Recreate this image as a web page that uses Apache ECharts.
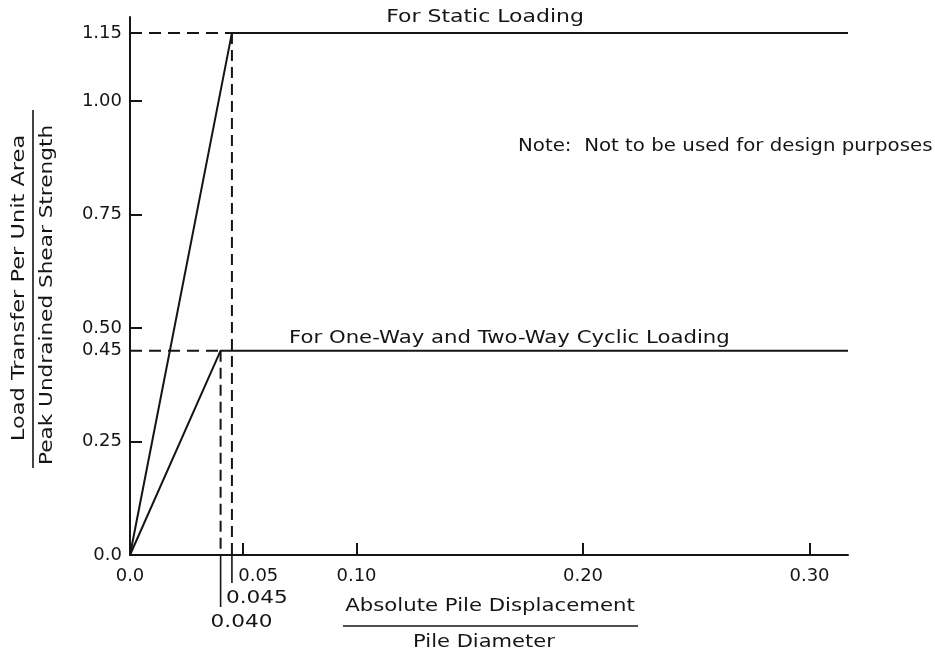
<!DOCTYPE html>
<html>
<head>
<meta charset="utf-8">
<script src="https://cdn.jsdelivr.net/npm/echarts@6/dist/echarts.min.js"></script>
<style>
  html, body { margin: 0; padding: 0; background: #fff; }
  #chart { width: 935px; height: 649px; }
</style>
</head>
<body>
<div id="chart"></div>
<script>
// Axis ticks and tick labels
const xTickValues = [0.05, 0.10, 0.20, 0.30];
const xLabelValues = [0, 0.05, 0.10, 0.20, 0.30];
const xLabelTexts = ['0.0', '0.05', '0.10', '0.20', '0.30'];
const yTickValues = [0.25, 0.50, 0.75, 1.00];
const yLabelValues = [0, 0.25, 0.45, 0.50, 0.75, 1.00, 1.15];
const yLabelTexts = ['0.0', '0.25', '0.45', '0.50', '0.75', '1.00', '1.15'];

// Load-transfer curves: [displacement / diameter, load transfer / peak strength]
const staticLoading = [[0, 0], [0.045, 1.15], [0.317, 1.15]];
const cyclicLoading = [[0, 0], [0.040, 0.45], [0.317, 0.45]];

// Peak points marked with dashed projection lines
const peakPoints = [[0.045, 1.15], [0.040, 0.45]];
const peakLabels = ['0.045', '0.040'];

const INK = '#151515';
const FONT = 'DejaVu Sans';
const WIDE = 1.2;   // horizontal stretch for the wide lettering

// Drop-line extension below the axis and label shift for each peak point
const dropBelow = [28, 52];
const labelShift = [6, 10];

function lookup(values, texts, v) {
  for (let i = 0; i < values.length; i++) {
    if (Math.abs(values[i] - v) < 1e-9) return texts[i];
  }
  return '';
}

function label(text, x, y, opts) {
  opts = opts || {};
  return {
    type: 'text', x: x, y: y,
    rotation: opts.rotation || 0,
    scaleX: opts.scaleX || WIDE,
    style: {
      text: text, fill: INK,
      font: (opts.size || 18) + 'px "' + FONT + '"',
      textAlign: opts.align || 'center', textVerticalAlign: 'middle'
    }
  };
}

const chart = echarts.init(document.getElementById('chart'), null, { renderer: 'canvas' });

chart.setOption({
  animation: false,
  backgroundColor: '#fff',
  grid: { left: 130, right: 87, top: 17, bottom: 94 },
  xAxis: {
    type: 'value',
    min: 0,
    max: 0.317,
    splitLine: { show: false },
    axisLine: { show: true, onZero: false, lineStyle: { color: INK, width: 2 } },
    axisTick: {
      show: true, inside: true, length: 12,
      customValues: xTickValues,
      lineStyle: { color: INK, width: 2 }
    },
    axisLabel: {
      customValues: xLabelValues,
      margin: 12,
      color: INK,
      fontFamily: FONT,
      fontSize: 18,
      formatter: function (v) {
        const t = lookup(xLabelValues, xLabelTexts, v);
        return Math.abs(v - 0.05) < 1e-9 ? '{s|' + t + '}' : t;
      },
      rich: {
        s: { padding: [0, 0, 0, 30], color: INK, fontFamily: FONT, fontSize: 18 }
      }
    }
  },
  yAxis: {
    type: 'value',
    min: 0,
    max: 1.185,
    splitLine: { show: false },
    axisLine: { show: true, onZero: false, lineStyle: { color: INK, width: 2 } },
    axisTick: {
      show: true, inside: true, length: 12,
      customValues: yTickValues,
      lineStyle: { color: INK, width: 2 }
    },
    axisLabel: {
      customValues: yLabelValues,
      margin: 8,
      color: INK,
      fontFamily: FONT,
      fontSize: 18,
      formatter: function (v) { return lookup(yLabelValues, yLabelTexts, v); }
    }
  },
  series: [
    {
      name: 'Static',
      type: 'line',
      data: staticLoading,
      symbol: 'none',
      z: 3,
      lineStyle: { color: INK, width: 2 }
    },
    {
      name: 'Cyclic',
      type: 'line',
      data: cyclicLoading,
      symbol: 'none',
      z: 3,
      lineStyle: { color: INK, width: 2 }
    },
    {
      name: 'Peaks',
      type: 'custom',
      coordinateSystem: 'cartesian2d',
      clip: false,
      z: 2,
      data: peakPoints,
      encode: { x: 0, y: 1 },
      renderItem: function (params, api) {
        const i = params.dataIndex;
        const x = api.value(0), y = api.value(1);
        const p = api.coord([x, y]);
        const a = api.coord([0, y]);
        const b = api.coord([x, 0]);
        const below = dropBelow[i];
        return {
          type: 'group',
          children: [
            { type: 'line', shape: { x1: a[0], y1: a[1], x2: p[0], y2: p[1] },
              style: { stroke: INK, lineWidth: 2, lineDash: [12, 7] } },
            { type: 'line', shape: { x1: p[0], y1: p[1], x2: b[0], y2: b[1] },
              style: { stroke: INK, lineWidth: 2, lineDash: [11, 6] } },
            { type: 'line', shape: { x1: b[0], y1: b[1], x2: b[0], y2: b[1] + below },
              style: { stroke: INK, lineWidth: 1.6 } },
            { type: 'text', x: b[0] - labelShift[i], y: b[1] + below + 6,
              scaleX: WIDE,
              style: { text: peakLabels[i], fill: INK, font: '18px "' + FONT + '"',
                       textAlign: 'left', textVerticalAlign: 'top' } }
          ]
        };
      }
    }
  ],
  graphic: [
    label('For Static Loading', 485, 17, { scaleX: 1.22 }),
    label('For One-Way and Two-Way Cyclic Loading', 289, 338, { align: 'left', scaleX: 1.18 }),
    label('Note:  Not to be used for design purposes', 518, 146, { align: 'left', scaleX: 1.1 }),
    // x-axis title as a fraction
    label('Absolute Pile Displacement', 490, 606, { scaleX: 1.18 }),
    { type: 'line', shape: { x1: 343, y1: 626, x2: 638, y2: 626 },
      style: { stroke: INK, lineWidth: 1.6 } },
    label('Pile Diameter', 484, 642, { scaleX: 1.17 }),
    // y-axis title as a fraction
    label('Load Transfer Per Unit Area', 19, 288, { rotation: Math.PI / 2, scaleX: 1.25 }),
    { type: 'line', shape: { x1: 33, y1: 110, x2: 33, y2: 468 },
      style: { stroke: INK, lineWidth: 1.6 } },
    label('Peak Undrained Shear Strength', 47, 295, { rotation: Math.PI / 2, scaleX: 1.2 })
  ]
});
</script>
</body>
</html>
